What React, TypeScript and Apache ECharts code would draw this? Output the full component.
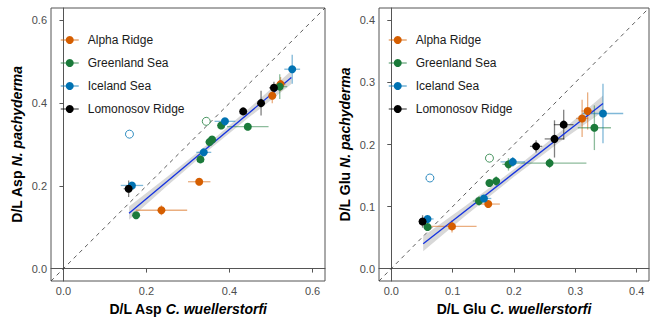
import React, { useEffect, useRef } from "react";
import * as echarts from "echarts";

const groups = ["Alpha Ridge", "Greenland Sea", "Iceland Sea", "Lomonosov Ridge"];
const colors = ["#D55E00", "#1B7A3A", "#0072B2", "#000000"];

// [x, y, xerr, yerr]
const aspAlpha = [[0.503, 0.418, 0.01, 0.018], [0.523, 0.446, 0.012, 0.017], [0.327, 0.21, 0.027, 0.008], [0.236, 0.141, 0.062, 0.012]];
const aspGreenland = [[0.521, 0.44, 0.018, 0.03], [0.38, 0.346, 0.01, 0.006], [0.444, 0.343, 0.05, 0.008], [0.358, 0.312, 0.01, 0.008], [0.352, 0.306, 0.01, 0.006], [0.33, 0.264, 0.008, 0.006], [0.175, 0.129, 0.006, 0.006]];
const aspIceland = [[0.551, 0.482, 0.019, 0.035], [0.389, 0.356, 0.025, 0.006], [0.338, 0.281, 0.018, 0.006], [0.165, 0.201, 0.027, 0.006]];
const aspLomonosov = [[0.507, 0.437, 0.012, 0.015], [0.476, 0.4, 0.008, 0.03], [0.433, 0.38, 0.006, 0.008], [0.157, 0.193, 0.012, 0.02]];
const aspOpenIceland = [[0.159, 0.325]];
const aspOpenGreenland = [[0.344, 0.356]];
const aspFit = [[0.158, 0.134], [0.549, 0.462]];
const aspBandX = [0.158, 0.25, 0.35, 0.45, 0.549];
const aspBandLo = [0.118, 0.2, 0.287, 0.368, 0.446];
const aspBandHi = [0.15, 0.222, 0.303, 0.39, 0.478];

const gluAlpha = [[0.32, 0.254, 0.01, 0.03], [0.311, 0.242, 0.01, 0.03], [0.158, 0.104, 0.019, 0.006], [0.099, 0.068, 0.04, 0.01]];
const gluGreenland = [[0.331, 0.227, 0.027, 0.036], [0.258, 0.17, 0.06, 0.008], [0.191, 0.168, 0.01, 0.01], [0.171, 0.141, 0.006, 0.008], [0.16, 0.138, 0.006, 0.006], [0.143, 0.109, 0.01, 0.008], [0.059, 0.067, 0.006, 0.006]];
const gluIceland = [[0.345, 0.25, 0.033, 0.048], [0.198, 0.172, 0.02, 0.008], [0.151, 0.113, 0.012, 0.006], [0.059, 0.08, 0.01, 0.006]];
const gluLomonosov = [[0.281, 0.232, 0.016, 0.024], [0.266, 0.209, 0.016, 0.03], [0.236, 0.197, 0.01, 0.01], [0.051, 0.076, 0.006, 0.01]];
const gluOpenIceland = [[0.063, 0.146]];
const gluOpenGreenland = [[0.16, 0.178]];
const gluFit = [[0.052, 0.04], [0.345, 0.266]];
const gluBandX = [0.052, 0.12, 0.2, 0.28, 0.345];
const gluBandLo = [0.028, 0.0845, 0.148, 0.208, 0.253];
const gluBandHi = [0.052, 0.1005, 0.16, 0.224, 0.279];

const aspTicks = [0, 0.2, 0.4, 0.6];
const gluTicks = [0, 0.1, 0.2, 0.3, 0.4];

const FONT = "Liberation Sans, Arial, Helvetica, sans-serif";

function errSeries(data: number[][], color: string, idx: number) {
  return {
    type: "custom",
    xAxisIndex: idx,
    yAxisIndex: idx,
    data,
    encode: { x: 0, y: 1 },
    silent: true,
    z: 2,
    renderItem: (_p: any, api: any) => {
      const x = api.value(0), y = api.value(1), xe = api.value(2), ye = api.value(3);
      const a = api.coord([x - xe, y]), b = api.coord([x + xe, y]);
      const c = api.coord([x, y - ye]), d = api.coord([x, y + ye]);
      const st = { stroke: color, lineWidth: 1.3, opacity: 0.5 };
      return {
        type: "group",
        children: [
          { type: "line", shape: { x1: a[0], y1: a[1], x2: b[0], y2: b[1] }, style: st },
          { type: "line", shape: { x1: c[0], y1: c[1], x2: d[0], y2: d[1] }, style: st },
        ],
      };
    },
  };
}

function bandSeries(bx: number[], lo: number[], hi: number[], idx: number) {
  return {
    type: "custom",
    xAxisIndex: idx,
    yAxisIndex: idx,
    data: [[bx[0], lo[0]]],
    silent: true,
    z: 1,
    renderItem: (_p: any, api: any) => {
      const pts: number[][] = [];
      for (let i = 0; i < bx.length; i++) pts.push(api.coord([bx[i], hi[i]]));
      for (let i = bx.length - 1; i >= 0; i--) pts.push(api.coord([bx[i], lo[i]]));
      return { type: "polygon", shape: { points: pts }, style: { fill: "#d4d4d4", opacity: 0.9 } };
    },
  };
}

function pointSeries(name: string, data: number[][], color: string, idx: number) {
  return {
    type: "line",
    name,
    xAxisIndex: idx,
    yAxisIndex: idx,
    data: data.map((d) => [d[0], d[1]]),
    symbol: "circle",
    symbolSize: 8,
    showAllSymbol: true,
    lineStyle: { opacity: 0, width: 1.5, color },
    itemStyle: { color },
    z: 5,
  };
}

function openSeries(data: number[][], color: string, idx: number) {
  return {
    type: "scatter",
    xAxisIndex: idx,
    yAxisIndex: idx,
    data,
    symbol: "circle",
    symbolSize: 8,
    itemStyle: { color: "#fff", borderColor: color, borderWidth: 1 },
    z: 4,
  };
}

function axisCommon(ticks: number[], min: number, max: number) {
  return {
    type: "value",
    min,
    max,
    splitLine: { show: false },
    axisLine: { show: true, lineStyle: { color: "#555", width: 1 } },
    axisTick: { show: true, length: 4, customValues: ticks, lineStyle: { color: "#555" } },
    axisLabel: {
      customValues: ticks,
      formatter: (v: number) => v.toFixed(1),
      color: "#4d4d4d",
      fontSize: 11,
      fontFamily: FONT,
      margin: 4,
    },
  };
}

const rich = {
  b: { fontWeight: "bold", fontSize: 14, color: "#000", fontFamily: FONT },
  bi: { fontWeight: "bold", fontStyle: "italic", fontSize: 14, color: "#000", fontFamily: FONT },
};

export default function App() {
  const ref = useRef<HTMLDivElement>(null);
  useEffect(() => {
    document.body.style.margin = "0";
    const chart = echarts.init(ref.current!, null, { renderer: "svg" });
    const groupData = [
      [aspAlpha, aspGreenland, aspIceland, aspLomonosov],
      [gluAlpha, gluGreenland, gluIceland, gluLomonosov],
    ];
    const series: any[] = [];
    series.push(bandSeries(aspBandX, aspBandLo, aspBandHi, 0));
    series.push(bandSeries(gluBandX, gluBandLo, gluBandHi, 1));
    const diag = [
      [[-0.03, -0.03], [0.63, 0.63]],
      [[-0.02, -0.02], [0.42, 0.42]],
    ];
    [0, 1].forEach((p) => {
      series.push({
        type: "line",
        xAxisIndex: p,
        yAxisIndex: p,
        data: diag[p],
        symbol: "none",
        lineStyle: { color: "#333", width: 0.8, type: [4, 4] },
        silent: true,
        z: 1,
      });
      series.push({
        type: "line",
        xAxisIndex: p,
        yAxisIndex: p,
        data: p === 0 ? aspFit : gluFit,
        symbol: "none",
        lineStyle: { color: "#1533E0", width: 1.3 },
        silent: true,
        z: 3,
      });
      groupData[p].forEach((d, g) => series.push(errSeries(d, colors[g], p)));
    });
    series.push(openSeries(aspOpenIceland, colors[2], 0));
    series.push(openSeries(aspOpenGreenland, colors[1], 0));
    series.push(openSeries(gluOpenIceland, colors[2], 1));
    series.push(openSeries(gluOpenGreenland, colors[1], 1));
    [0, 1].forEach((p) => {
      groupData[p].forEach((d, g) => series.push(pointSeries(groups[g], d, colors[g], p)));
    });

    const legendCommon = {
      orient: "vertical",
      top: 34,
      padding: 0,
      itemWidth: 18,
      itemHeight: 10,
      itemGap: 11,
      selectedMode: false,
      data: groups,
      lineStyle: { opacity: 0.55, width: 1.5 },
      textStyle: { fontSize: 12, color: "#1a1a1a", fontFamily: FONT, padding: [0, 0, 0, 4] },
    };

    chart.setOption({
      animation: false,
      textStyle: { fontFamily: FONT },
      grid: [
        { left: 51, top: 8, width: 274, height: 275, show: true, borderColor: "#555", borderWidth: 1, backgroundColor: "transparent" },
        { left: 379, top: 8, width: 270, height: 275, show: true, borderColor: "#555", borderWidth: 1, backgroundColor: "transparent" },
      ],
      xAxis: [
        { ...axisCommon(aspTicks, -0.03, 0.63), gridIndex: 0, name: "{b|D/L Asp }{bi|C. wuellerstorfi}", nameLocation: "middle", nameGap: 21, nameTextStyle: { rich } },
        { ...axisCommon(gluTicks, -0.02, 0.42), gridIndex: 1, name: "{b|D/L Glu }{bi|C. wuellerstorfi}", nameLocation: "middle", nameGap: 21, nameTextStyle: { rich } },
      ],
      yAxis: [
        { ...axisCommon(aspTicks, -0.03, 0.63), gridIndex: 0, name: "{b|D/L Asp }{bi|N. pachyderma}", nameLocation: "middle", nameGap: 27, nameTextStyle: { rich } },
        { ...axisCommon(gluTicks, -0.02, 0.42), gridIndex: 1, name: "{b|D/L Glu }{bi|N. pachyderma}", nameLocation: "middle", nameGap: 27, nameTextStyle: { rich } },
      ],
      legend: [
        { ...legendCommon, left: 60 },
        { ...legendCommon, left: 388 },
      ],
      series,
    });
    return () => chart.dispose();
  }, []);
  return <div ref={ref} style={{ width: 651, height: 321 }} />;
}
